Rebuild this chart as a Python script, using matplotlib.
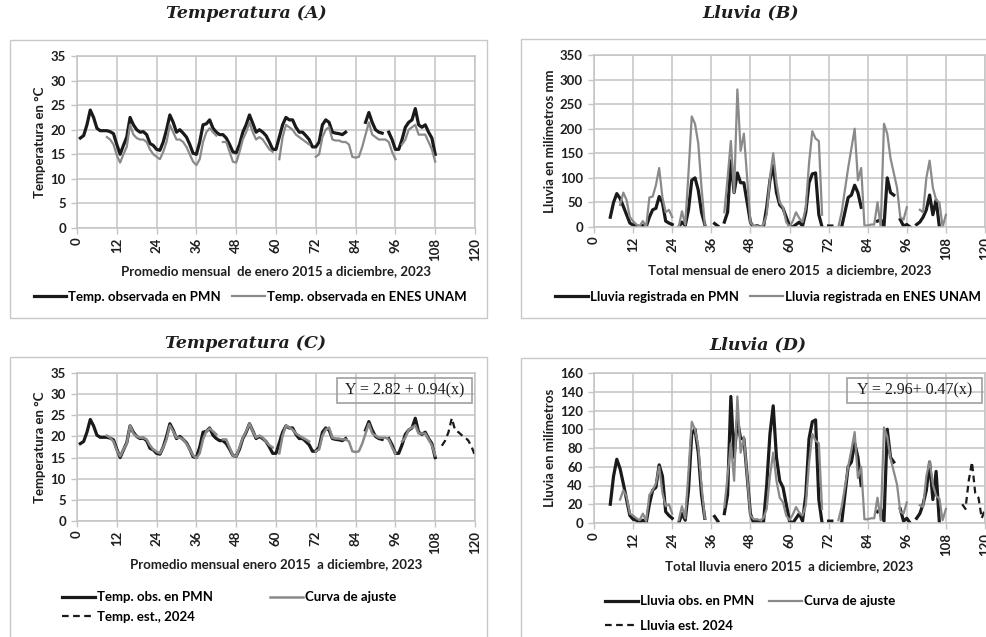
import numpy as np
import matplotlib
matplotlib.use('Agg')
import matplotlib.pyplot as plt
from matplotlib.patches import Rectangle

N = np.nan

# meses 1..108 (enero 2015 - diciembre 2023)
temp_pmn = [18.3, 18.8, 21.0, 24.0, 22.5, 20.3, 19.8, 19.8, 19.8, 19.6,
            19.2, 17.0, 15.0, 16.8, 18.5, 22.5, 21.0, 20.0, 19.5, 19.6,
            19.0, 17.2, 16.8, 16.0, 15.8, 17.5, 20.0, 23.0, 21.5, 19.5,
            20.0, 19.3, 18.5, 17.0, 15.2, 15.0, 17.5, 21.0, 21.2, 22.0,
            20.3, 19.5, 19.0, 19.0, 18.3, 17.0, 15.5, 15.3, 17.0, 19.5,
            21.0, 23.0, 21.3, 19.5, 20.0, 19.5, 18.8, 17.5, 16.0, 16.0,
            18.5, 21.0, 22.5, 22.0, 22.0, 20.5, 19.5, 19.5, 18.8, 18.0,
            16.5, 16.5, 17.5, 21.0, 22.0, 21.5, 19.5, 19.3, 19.2, 19.0,
            19.5, N, N, N, N, N, 21.5, 23.5, 21.5, 20.0,
            19.5, 19.3, N, 19.5, 18.0, 16.0, 16.0, 18.0, 20.5, 21.5,
            22.0, 24.3, 21.0, 20.5, 21.0, 19.5, 18.3, 15.0]

temp_enes = [N, N, N, N, N, N, N, N, 18.5, 18.0,
             17.0, 14.8, 13.3, 15.0, 16.5, 21.0, 19.0, 18.3, 18.0, 18.0,
             17.5, 16.0, 15.0, 14.5, 14.0, 15.5, 17.5, 21.0, 19.5, 18.0,
             18.0, 17.5, 16.5, 15.0, 13.5, 12.8, 14.0, 17.5, 19.5, 20.3,
             19.5, 18.8, N, 17.5, 17.5, 15.5, 13.5, 13.3, 15.5, 18.0,
             19.5, 21.5, 19.5, 18.0, 18.5, 18.0, 17.0, 16.0, 15.5, N,
             14.0, 18.5, 21.0, 20.5, 20.0, 19.0, 18.5, 18.0, 17.5, 17.0,
             N, 14.5, 15.0, 18.5, 20.0, 20.5, 18.0, 17.8, 17.8, 17.5,
             17.5, 17.0, 14.5, 14.3, 14.5, 16.5, 19.0, 21.5, 19.0, 18.5,
             18.0, 18.0, 18.0, 17.5, 15.5, 14.0, N, 17.0, 18.0, 20.0,
             20.5, 21.0, 19.0, 19.0, 19.0, 17.5, 16.0, 13.5]

temp_ajuste = [N, N, N, N, N, N, N, N, 20.2, 19.7,
               18.8, 16.7, 15.3, 16.9, 18.3, 22.6, 20.7, 20.0, 19.7, 19.7,
               19.3, 17.9, 16.9, 16.4, 16.0, 17.4, 19.3, 22.6, 21.2, 19.7,
               19.7, 19.3, 18.3, 16.9, 15.5, 14.9, 16.0, 19.3, 21.2, 21.9,
               21.2, 20.5, N, 19.3, 19.3, 17.4, 15.5, 15.3, 17.4, 19.7,
               21.2, 23.0, 21.2, 19.7, 20.2, 19.7, 18.8, 17.9, 17.4, N,
               16.0, 20.2, 22.6, 22.1, 21.6, 20.7, 20.2, 19.7, 19.3, 18.8,
               N, 16.5, 16.9, 20.2, 21.6, 22.1, 19.7, 19.5, 19.5, 19.3,
               19.3, 18.8, 16.5, 16.3, 16.5, 18.3, 20.7, 23.0, 20.7, 20.2,
               19.7, 19.7, 19.7, 19.3, 17.4, 16.0, N, 18.8, 19.7, 21.6,
               22.1, 22.6, 20.7, 20.7, 20.7, 19.3, 17.9, 15.5]

# meses 109..120 (2024)
temp_est = [N, 17.8, 19.0, 21.0, 24.3, 21.5, 21.0, 20.3, 19.8, 19.0, 17.5, 15.5]

lluvia_pmn = [N, N, N, N, 20, 50, 68, 58, 42, 25,
              8, 4, 3, 0, 3, 0, 20, 35, 38, 62,
              50, 12, 8, 5, N, 0, 10, 3, 35, 95,
              100, 75, 30, 5, N, N, 7, 2, N, 10,
              30, 135, 70, 110, 90, 90, 50, 10, 0, 3,
              0, 0, 40, 95, 125, 70, 45, 38, 20, 2,
              0, 5, 10, 2, 30, 90, 108, 110, 25, 0,
              N, 2, 2, N, N, 0, 30, 60, 65, 85,
              70, 40, N, N, N, N, 12, 15, 2, 100,
              70, 65, N, 15, 2, 5, 0, N, 5, 10,
              20, 35, 65, 25, 55, 0, N, N]

lluvia_enes = [N, N, N, N, N, N, N, 45, 70, 55,
               20, 12, 5, 2, 12, 0, 60, 62, 85, 120,
               60, 30, 35, 20, N, 0, 32, 5, 110, 225,
               210, 170, 80, 5, N, N, N, N, N, 30,
               100, 175, 70, 280, 155, 190, 100, 10, 2, 3,
               0, 5, 25, 100, 150, 90, 50, 40, 10, 0,
               12, 30, 18, 10, 40, 130, 195, 180, 175, 25,
               N, N, N, N, 0, 30, 75, 120, 160, 200,
               95, 120, 3, 3, 5, 5, 50, 0, 210, 190,
               140, 110, 80, 20, 15, 40, N, N, N, 35,
               30, 100, 135, 80, 55, 50, 0, 25]

lluvia_ajuste = [N, N, N, N, N, N, N, 25, 35, 28,
                 10, 8, 5, 3, 10, 2, 30, 35, 42, 60,
                 32, 18, 20, 10, N, 3, 18, 5, 55, 108,
                 100, 82, 40, 5, N, N, N, N, N, 17,
                 50, 85, 45, 135, 75, 92, 50, 8, 4, 4,
                 3, 5, 15, 50, 75, 45, 27, 22, 8, 3,
                 9, 17, 11, 8, 19, 64, 95, 88, 85, 15,
                 N, N, N, N, 3, 17, 38, 60, 78, 97,
                 48, 60, 4, 4, 5, 5, 27, 3, 102, 92,
                 69, 55, 41, 12, 10, 22, N, N, N, 19,
                 17, 50, 66, 41, 29, 26, 3, 15]

lluvia_est = [N, N, N, N, 20, 15, 45, 65, 32, 27, 5, 15]

meses = np.arange(1, 109)
meses_2024 = np.arange(109, 121)

W, H = 986, 637
NEGRO = '#1a1a1a'
GRIS = '#8a8a8a'
REJILLA = '#c4c4c4'
SANS = 'Lato'


def fx(px):
    return px / W


def fy(py):
    return 1 - py / H


def crear_ejes(fig, l, t, r, b, ymax, ystep, ylabel, xlabel):
    ax = fig.add_axes([fx(l), fy(b), (r - l) / W, (b - t) / H])
    ax.set_xlim(0, 120)
    ax.set_ylim(0, ymax)
    ax.set_xticks(np.arange(0, 121, 12))
    ax.set_yticks(np.arange(0, ymax + 1, ystep))
    ax.grid(True, color=REJILLA, lw=1.1)
    ax.set_axisbelow(True)
    for s in ax.spines.values():
        s.set_color(REJILLA)
        s.set_linewidth(1.1)
    ax.tick_params(colors=REJILLA, length=4, width=1, labelcolor='#1e1e1e')
    ax.tick_params(axis='x', pad=3)
    ax.tick_params(axis='y', pad=4)
    for lab in ax.get_xticklabels():
        lab.set_rotation(90)
        lab.set_fontweight('bold')
        lab.set_fontfamily(SANS)
        lab.set_fontsize(9.5)
    for lab in ax.get_yticklabels():
        lab.set_fontweight('bold')
        lab.set_fontfamily(SANS)
        lab.set_fontsize(9.5)
    ax.set_ylabel(ylabel, fontsize=9.5, fontweight='bold', family=SANS, color='#1e1e1e', labelpad=3)
    ax.set_xlabel(xlabel, fontsize=9.5, fontweight='bold', family=SANS, color='#1e1e1e', labelpad=3)
    return ax


def caja(fig, l, t, r, b, color='#c8c8c8', lw=1.0):
    fig.patches.append(Rectangle((fx(l), fy(b)), (r - l) / W, (b - t) / H,
                                 transform=fig.transFigure, fill=False,
                                 edgecolor=color, lw=lw))


fig = plt.figure(figsize=(W / 100, H / 100), dpi=100)

# marcos de cada panel
caja(fig, 10, 40, 487, 318)
caja(fig, 521, 39, 990, 318)
caja(fig, 10, 357, 487, 645)
caja(fig, 521, 358, 990, 645)

titulo = dict(fontsize=12.5, fontweight='bold', style='italic', family='DejaVu Serif',
              ha='center', va='center', color='#1e1e1e')
fig.text(fx(246), fy(13), 'Temperatura (A)', **titulo)
fig.text(fx(751), fy(13), 'Lluvia (B)', **titulo)
fig.text(fx(246), fy(344), 'Temperatura (C)', **titulo)
fig.text(fx(758), fy(345), 'Lluvia (D)', **titulo)

ley = dict(frameon=False, prop={'family': SANS, 'weight': 'bold', 'size': 9.5},
           handlelength=2.5, handletextpad=0.15, borderaxespad=0)

# Panel A
axA = crear_ejes(fig, 77, 56, 475, 228, 35, 5, 'Temperatura en °C',
                 'Promedio mensual  de enero 2015 a diciembre, 2023')
axA.plot(meses, temp_pmn, color=NEGRO, lw=2.3, label='Temp. observada en PMN')
axA.plot(meses, temp_enes, color=GRIS, lw=1.6, label='Temp. observada en ENES UNAM')
axA.legend(loc='center', bbox_to_anchor=(fx(250), fy(297)), bbox_transform=fig.transFigure,
           ncol=2, columnspacing=0.8, **ley)

# Panel B
axB = crear_ejes(fig, 594, 55, 985, 227, 350, 50, 'Lluvia en milímetros mm',
                 'Total mensual de enero 2015  a diciembre, 2023')
axB.plot(meses, lluvia_pmn, color=NEGRO, lw=2.3, label='Lluvia registrada en PMN')
axB.plot(meses, lluvia_enes, color=GRIS, lw=1.6, label='Lluvia registrada en ENES UNAM')
axB.legend(loc='center', bbox_to_anchor=(fx(768), fy(297)), bbox_transform=fig.transFigure,
           ncol=2, columnspacing=0.8, **ley)

# Panel C
axC = crear_ejes(fig, 77, 373, 475, 521, 35, 5, 'Temperatura en °C',
                 'Promedio mensual enero 2015  a diciembre, 2023')
lc1, = axC.plot(meses, temp_pmn, color=NEGRO, lw=2.3, label='Temp. obs. en PMN')
lc2, = axC.plot(meses, temp_ajuste, color=GRIS, lw=1.8, label='Curva de ajuste')
lc3, = axC.plot(meses_2024, temp_est, color=NEGRO, lw=1.6, ls=(0, (3, 2)), label='Temp. est., 2024')
axC.legend(handles=[lc1, lc3, lc2], loc='upper left', bbox_to_anchor=(fx(57), fy(586)),
           bbox_transform=fig.transFigure, ncol=2, columnspacing=4.3, labelspacing=0.55, **ley)
caja(fig, 337, 378, 472, 403, color='#a0a0a0', lw=1.2)
fig.text(fx(404.5), fy(390.5), 'Y = 2.82 + 0.94(x)', family='Liberation Serif', fontsize=11.5,
         ha='center', va='center', color='#1e1e1e')

# Panel D
axD = crear_ejes(fig, 594, 373, 985, 523, 160, 20, 'Lluvia en milímetros',
                 'Total lluvia enero 2015  a diciembre, 2023')
ld1, = axD.plot(meses, lluvia_pmn, color=NEGRO, lw=2.3, label='Lluvia obs. en PMN')
ld2, = axD.plot(meses, lluvia_ajuste, color=GRIS, lw=1.6, label='Curva de ajuste')
ld3, = axD.plot(meses_2024, lluvia_est, color=NEGRO, lw=1.6, ls=(0, (3, 2)), label='Lluvia est. 2024')
axD.legend(handles=[ld1, ld3, ld2], loc='upper left', bbox_to_anchor=(fx(600), fy(590)),
           bbox_transform=fig.transFigure, ncol=2, columnspacing=1.1, labelspacing=0.95, **ley)
caja(fig, 847, 378, 982, 403, color='#a0a0a0', lw=1.2)
fig.text(fx(914.5), fy(390.5), 'Y = 2.96+ 0.47(x)', family='Liberation Serif', fontsize=11.5,
         ha='center', va='center', color='#1e1e1e')

fig.savefig('out.png', dpi=100)
